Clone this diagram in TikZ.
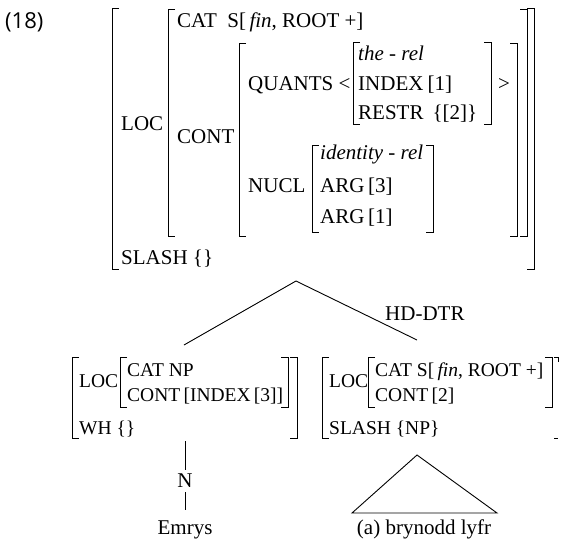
\documentclass[tikz,border=0pt]{standalone}
\usepackage{fontspec}
\setmainfont{Liberation Serif}
\newfontfamily\numfont{Open Sans}
\tikzset{
  brk/.style={line width=0.9pt},
  edge/.style={line width=0.9pt},
  t/.style={anchor=base west, inner sep=0pt, font=\fontsize{21}{25}\selectfont},
  ts/.style={anchor=base west, inner sep=0pt, font=\fontsize{19.5}{23}\selectfont},
  tc/.style={anchor=base, inner sep=0pt, font=\fontsize{21}{25}\selectfont},
}
\newcommand\avmL[3]{\draw[brk] (#1+7,#2) -- (#1,#2) -- (#1,#3) -- (#1+7,#3);}
\newcommand\avmR[3]{\draw[brk] (#1-7,#2) -- (#1,#2) -- (#1,#3) -- (#1-7,#3);}
\begin{document}
\begin{tikzpicture}[x=1pt,y=-1pt]
\useasboundingbox (0,0) rectangle (561,544);
% label
\node[t,font=\numfont\fontsize{22}{26}\selectfont] (ex) at (5,28) {(18)};
% ---------- top AVM ----------
\node[t] (loc) at (121,130) {LOC};
\node[t] (slash) at (121,264) {SLASH \{\}};
\node[t] (cat) at (177,27) {CAT\ \ S[\,\textit{fin}, ROOT +]};
\node[t] (cont) at (177,143) {CONT};
\node[t] (quants) at (248,90) {QUANTS <};
\node[t] (therel) at (358,60) {\textit{the - rel}};
\node[t] (index) at (358,90) {INDEX\hspace{4pt}[1]};
\node[t] (restr) at (358,119) {RESTR\hspace{9pt}\{[2]\}};
\node[t] (gt) at (498,90) {>};
\node[t] (nucl) at (248,192) {NUCL};
\node[t] (idrel) at (320,159) {\textit{identity - rel}};
\node[t] (arg3) at (320,192) {ARG\,[3]};
\node[t] (arg1) at (320,223) {ARG\,[1]};
\avmL{112}{8}{269}
\avmR{534}{8}{269}
\avmL{168}{9}{236}
\avmR{527}{9}{236}
\avmL{239}{43}{236}
\avmR{517}{43}{236}
\avmL{353}{42}{124}
\avmR{491}{42}{124}
\avmL{312}{145}{232}
\avmR{433}{145}{232}
% ---------- tree ----------
\coordinate (apex) at (296,281);
\coordinate (ltop) at (184,345);
\coordinate (rtop) at (417,340);
\draw[edge] (apex) -- (ltop);
\draw[edge] (apex) -- (rtop);
\node[t] (hd) at (385,320) {HD-DTR};
% ---------- left daughter ----------
\node[ts] (lloc) at (79,387) {LOC};
\node[ts] (lcat) at (127,376) {CAT NP};
\node[ts] (lcont) at (127,401) {CONT\,[INDEX\,[3]]};
\node[ts] (lwh) at (79,434) {WH \{\}};
\avmL{72}{357}{438}
\avmR{297}{357}{438}
\avmL{120}{357}{407}
\avmR{288}{357}{407}
% ---------- right daughter ----------
\node[ts] (rloc) at (329,387) {LOC};
\node[ts] (rcat) at (375,376) {CAT S[\,\textit{fin}, ROOT +]};
\node[ts] (rcont) at (375,401) {CONT\,[2]};
\node[ts] (rslash) at (329,434) {SLASH \{NP\}};
\avmL{322}{357}{438}
\avmL{368}{357}{407}
\avmR{552}{357}{407}
\draw[brk] (554,357) -- (558,357) -- (558,362);
\draw[brk] (554,438) -- (558,438);
% ---------- N / Emrys ----------
\coordinate (wtop) at (185,441);
\node[tc,anchor=center,inner sep=4pt] (n) at (185,481) {N};
\node[tc] (emrys) at (185,534) {Emrys};
\draw[edge] (wtop) -- (n.north);
\draw[edge,shorten >=10pt] (n.south) -- (emrys.north);
% ---------- triangle ----------
\coordinate (tapex) at (417,455);
\coordinate (tbl) at (352,513);
\coordinate (tbr) at (497,513);
\draw[edge,line join=miter] (tbl) -- (tapex) -- (tbr) -- cycle;
\node[tc] (bry) at (424,534) {(a) brynodd lyfr};
\end{tikzpicture}
\end{document}
